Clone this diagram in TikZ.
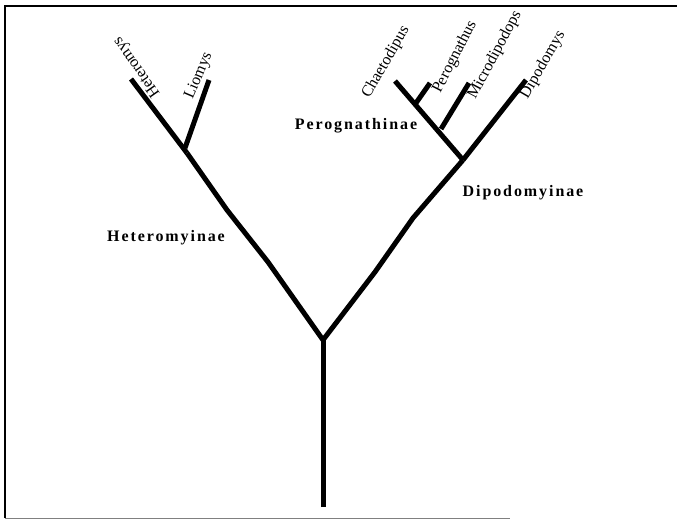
\documentclass[tikz,border=0pt]{standalone}
\usepackage{fontspec}
\setmainfont{Liberation Serif}
\usetikzlibrary{positioning}

\begin{document}
\begin{tikzpicture}[x=1pt,y=-1pt,
  branch/.style={line width=5pt},
  taxon/.style={font=\fontsize{16}{16}\selectfont, inner sep=0pt},
  clade/.style={font=\fontsize{16}{16}\selectfont\bfseries\addfontfeature{LetterSpace=12}, inner sep=0pt}]
\useasboundingbox (0,0) rectangle (677,520);
% frame
\draw[line width=2pt] (677,6) -- (5,6) -- (5,518);
\draw[line width=1pt, gray] (5,518) -- (510,518);
% junctions and tips
\coordinate (base) at (323,507);
\coordinate (fork) at (323,340);
\coordinate (hetero) at (187,153);
\coordinate (dipo) at (463,160);
\coordinate (perog) at (441,129);
\coordinate (chaet) at (416,103);
\coordinate (tiphet) at (131,79);
\coordinate (tiplio) at (209,80);
\coordinate (tipcha) at (395,81);
\coordinate (tipper) at (430,83);
\coordinate (tipmic) at (469,83);
\coordinate (tipdip) at (526,80);
% labels
\node (heteromys) [taxon, rotate=125] at (137,67) {Heteromys};
\node (liomys) [taxon, rotate=67] at (199,76) {Liomys};
\node (chaetodipus) [taxon, rotate=60] at (386,62) {Chaetodipus};
\node (perognathus) [taxon, rotate=63] at (455,57) {Perognathus};
\node (microdipodops) [taxon, rotate=62] at (495,55) {Microdipodops};
\node (dipodomys) [taxon, rotate=60] at (543,65) {Dipodomys};
\node (heteromyinae) [clade] at (166,238) {Heteromyinae};
\node (perognathinae) [clade] at (356,126) {Perognathinae};
\node (dipodomyinae) [clade] at (523,193) {Dipodomyinae};
% branches
\draw[branch] (base) -- (fork);
\draw[branch] (fork) -- (268,262) -- (227,210) -- (hetero);
\draw[branch] (hetero) -- (tiphet);
\draw[branch] (185,148) -- (tiplio);
\draw[branch] (fork) -- (375,272) -- (413,218) -- (dipo);
\draw[branch] (dipo) -- (tipdip);
\draw[branch] (dipo) -- (tipcha);
\draw[branch] (perog) -- (tipmic);
\draw[branch] (chaet) -- (tipper);
\end{tikzpicture}
\end{document}
